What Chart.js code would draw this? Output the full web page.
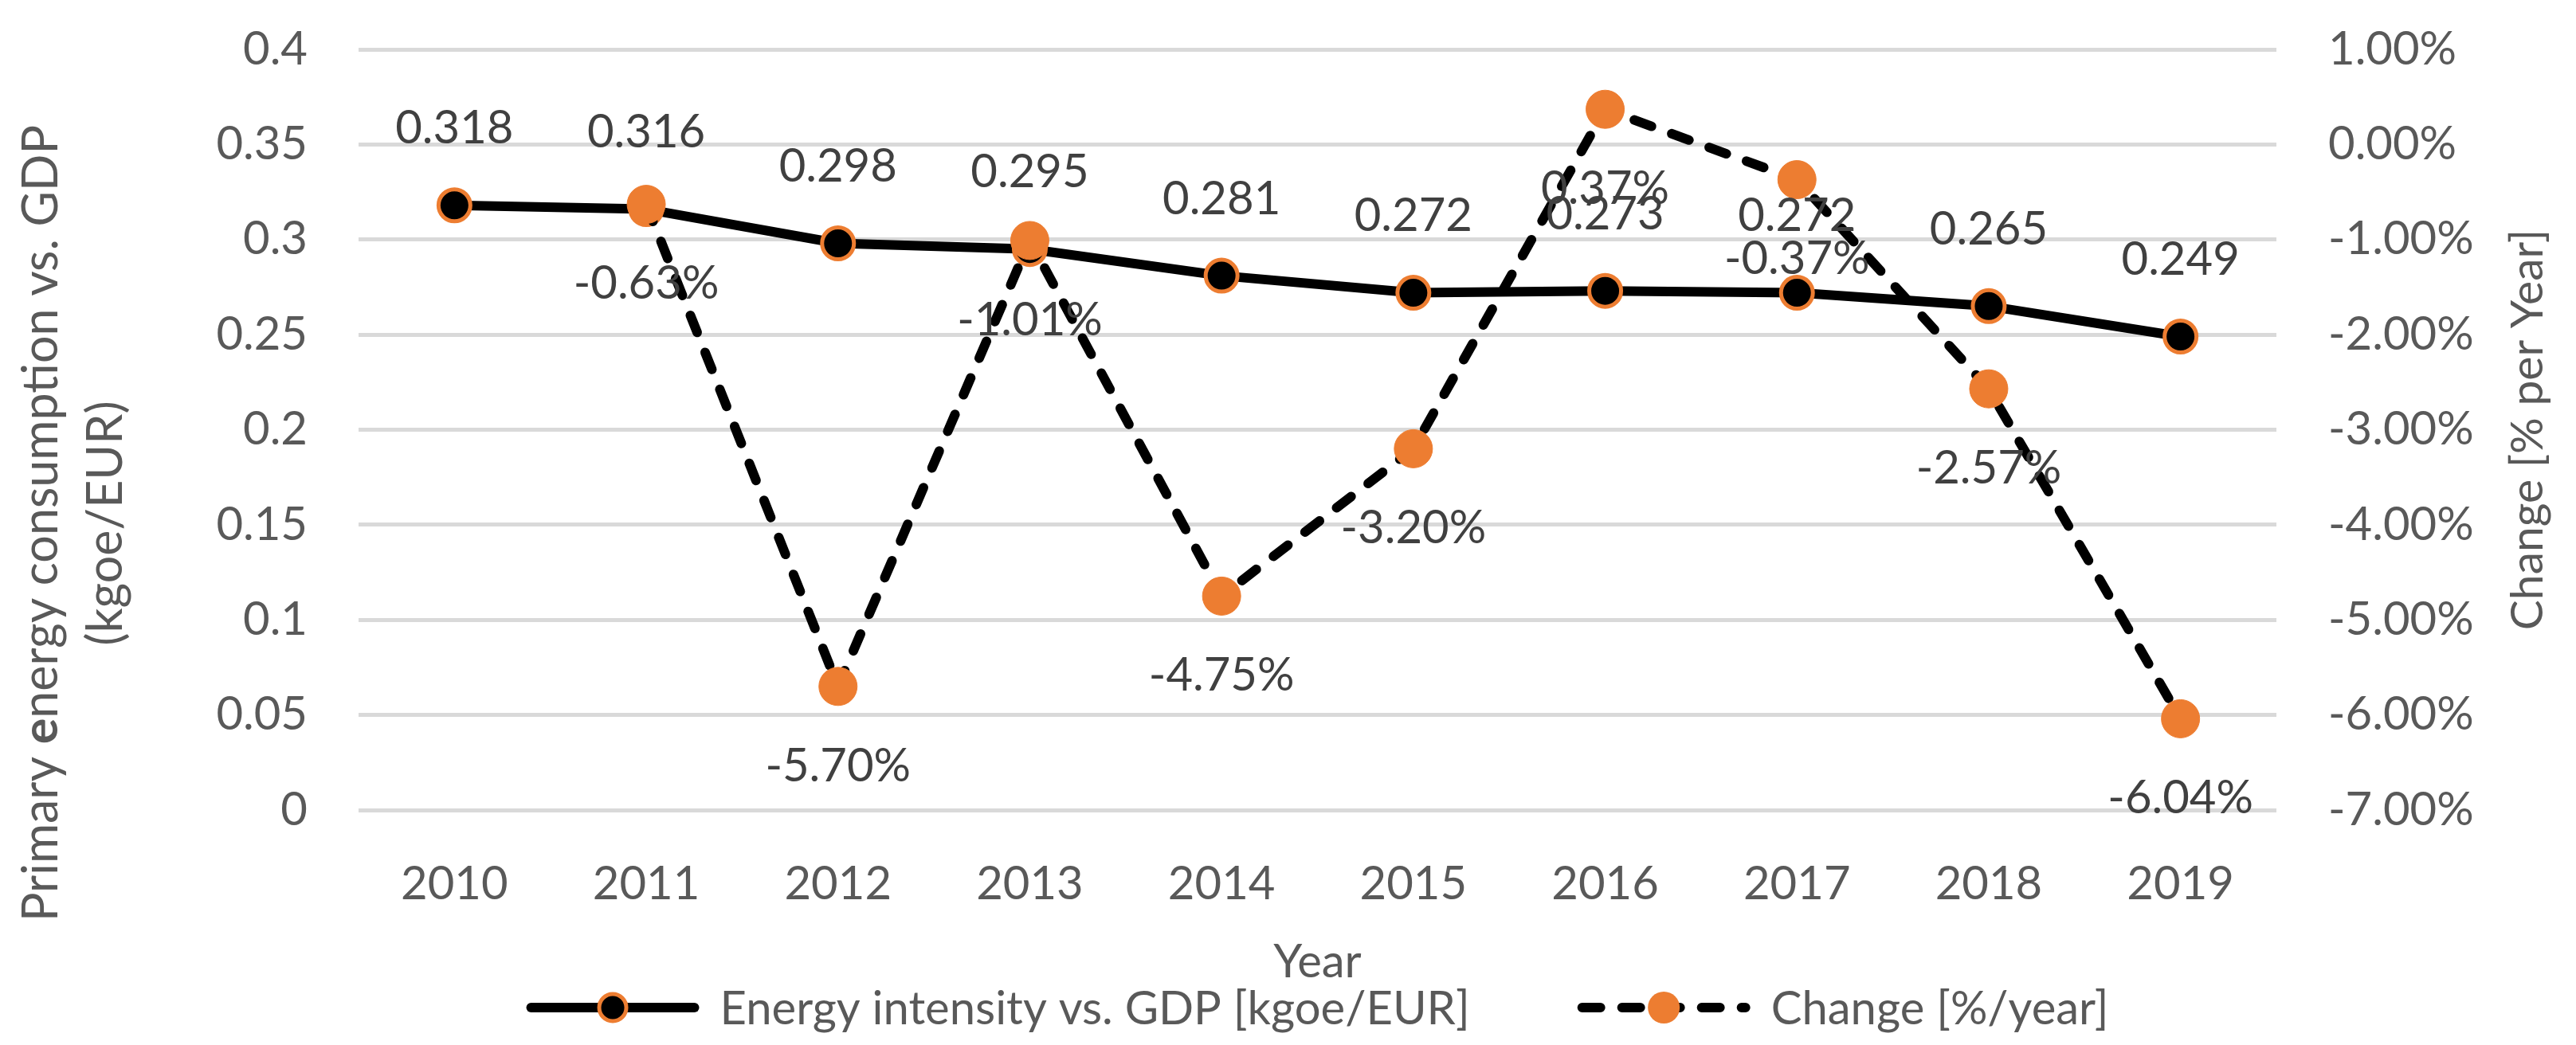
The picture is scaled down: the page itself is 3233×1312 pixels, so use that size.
<!DOCTYPE html>
<html>
<head>
<meta charset="utf-8">
<script src="https://cdn.jsdelivr.net/npm/chart.js@4.4.1/dist/chart.umd.min.js"></script>
<style>
  body { margin: 0; background: #ffffff; }
  #contenedor { width: 3233px; height: 1312px; }
</style>
</head>
<body>
<div id="contenedor"><canvas id="grafica" width="3233" height="1312"></canvas></div>
<script>
// datos de la gráfica
const years = ["2010", "2011", "2012", "2013", "2014", "2015", "2016", "2017", "2018", "2019"];
const intensity = [0.318, 0.316, 0.298, 0.295, 0.281, 0.272, 0.273, 0.272, 0.265, 0.249]; // kgoe/EUR
const change = [null, -0.63, -5.70, -1.01, -4.75, -3.20, 0.37, -0.37, -2.57, -6.04]; // % por año
const seriesNames = ["Energy intensity vs. GDP [kgoe/EUR]", "Change [%/year]"];
const leftTitle = ["Primary ", "e", "nergy consumption vs. GDP"]; // la "e" va en negrita
const leftTitle2 = "(kgoe/EUR)";
const rightTitle = "Change [% per Year]";
const xTitle = "Year";

const FONT = "Lato";
const GRIS = "#595959";
const NARANJA = "#ED7D31";

// etiquetas de datos encima/debajo de cada punto
const etiquetas = {
  id: "etiquetas",
  afterDatasetsDraw(chart) {
    const ctx = chart.ctx;
    ctx.save();
    ctx.font = "58px " + FONT;
    ctx.fillStyle = "#404040";
    ctx.textAlign = "center";
    ctx.textBaseline = "middle";
    chart.data.datasets.forEach((ds, i) => {
      const meta = chart.getDatasetMeta(i);
      meta.data.forEach((pt, j) => {
        const v = ds.data[j];
        if (v === null) return;
        const txt = i === 0 ? v.toFixed(3) : v.toFixed(2) + "%";
        ctx.fillText(txt, pt.x, pt.y + (i === 0 ? -96 : 100));
      });
    });
    ctx.restore();
  }
};

// títulos de los ejes verticales y leyenda dibujados a mano
const extras = {
  id: "extras",
  afterDraw(chart) {
    const ctx = chart.ctx;
    const area = chart.chartArea;
    ctx.save();
    ctx.fillStyle = GRIS;
    ctx.textBaseline = "alphabetic";

    // título izquierdo (dos líneas, giradas)
    const normal = "61px " + FONT;
    const negrita = "bold 61px " + FONT;
    ctx.font = normal;
    const w0 = ctx.measureText(leftTitle[0]).width;
    const w2 = ctx.measureText(leftTitle[2]).width;
    ctx.font = negrita;
    const w1 = ctx.measureText(leftTitle[1]).width;
    const total = w0 + w1 + w2;
    ctx.save();
    ctx.translate(72, 657);
    ctx.rotate(-Math.PI / 2);
    let x = -total / 2;
    ctx.font = normal; ctx.fillText(leftTitle[0], x, 0); x += w0;
    ctx.font = negrita; ctx.fillText(leftTitle[1], x, 0); x += w1;
    ctx.font = normal; ctx.fillText(leftTitle[2], x, 0);
    ctx.textAlign = "center";
    ctx.fillText(leftTitle2, 0, 81);
    ctx.restore();

    // título derecho
    ctx.save();
    ctx.font = "57px " + FONT;
    ctx.textAlign = "center";
    ctx.translate(3191, (area.top + area.bottom) / 2);
    ctx.rotate(-Math.PI / 2);
    ctx.fillText(rightTitle, 0, 0);
    ctx.restore();

    // leyenda
    ctx.font = "58px " + FONT;
    const sym = 217, hueco = 26, entre = 135;
    const anchos = seriesNames.map((t) => ctx.measureText(t).width);
    const largo = sym * 2 + hueco * 2 + anchos[0] + anchos[1] + entre;
    let lx = (area.left + area.right) / 2 - largo / 2;
    const ly = 1265;
    chart.data.datasets.forEach((ds, i) => {
      ctx.save();
      ctx.strokeStyle = ds.borderColor;
      ctx.lineWidth = ds.borderWidth;
      ctx.lineCap = "round";
      ctx.setLineDash(ds.borderDash || []);
      ctx.beginPath();
      ctx.moveTo(lx + 6, ly);
      ctx.lineTo(lx + sym - 6, ly);
      ctx.stroke();
      ctx.setLineDash([]);
      ctx.beginPath();
      const r = i === 0 ? 17 : 20;
      ctx.arc(lx + sym / 2, ly, r, 0, Math.PI * 2);
      ctx.fillStyle = ds.pointBackgroundColor;
      ctx.fill();
      if (i === 0) {
        ctx.lineWidth = 5;
        ctx.strokeStyle = ds.pointBorderColor;
        ctx.stroke();
      }
      ctx.restore();
      ctx.fillStyle = GRIS;
      ctx.textBaseline = "middle";
      ctx.fillText(seriesNames[i], lx + sym + hueco, ly + 2);
      lx += sym + hueco + anchos[i] + entre;
    });
    ctx.restore();
  }
};

// quitar el relleno que el eje vertical pide arriba y abajo
function ajustarEjeY(ancho) {
  return (scale) => {
    scale.width = ancho;
    scale.paddingTop = 0;
    scale.paddingBottom = 0;
  };
}

new Chart(document.getElementById("grafica"), {
  type: "line",
  data: {
    labels: years,
    datasets: [
      {
        label: seriesNames[0],
        data: intensity,
        yAxisID: "y",
        borderColor: "#000000",
        borderWidth: 12,
        borderJoinStyle: "round",
        pointBackgroundColor: "#000000",
        pointBorderColor: NARANJA,
        pointBorderWidth: 5,
        pointRadius: 20,
        pointHoverRadius: 20,
        order: 1
      },
      {
        label: seriesNames[1],
        data: change,
        yAxisID: "y2",
        borderColor: "#000000",
        borderWidth: 12,
        borderDash: [23, 27],
        borderCapStyle: "round",
        borderJoinStyle: "round",
        pointBackgroundColor: NARANJA,
        pointBorderColor: NARANJA,
        pointBorderWidth: 1,
        pointRadius: 24,
        pointHoverRadius: 24,
        order: 0
      }
    ]
  },
  options: {
    responsive: false,
    animation: false,
    devicePixelRatio: 1,
    layout: { padding: { top: 62, left: 0, right: 0, bottom: 0 } },
    plugins: {
      legend: { display: false },
      tooltip: { enabled: false }
    },
    scales: {
      x: {
        offset: true,
        grid: { display: false },
        border: { display: false },
        ticks: { color: GRIS, font: { family: FONT, size: 58 }, padding: 50 },
        title: {
          display: true,
          text: xTitle,
          color: GRIS,
          font: { family: FONT, size: 58 },
          padding: { top: 0, bottom: 69 }
        },
        afterFit: (scale) => { scale.height = 295; }
      },
      y: {
        position: "left",
        min: 0,
        max: 0.4,
        ticks: {
          stepSize: 0.05,
          color: GRIS,
          font: { family: FONT, size: 58 },
          padding: 64,
          callback: (v) => String(Number(v.toFixed(2)))
        },
        grid: { color: "#D9D9D9", lineWidth: 5, drawTicks: false },
        border: { display: false },
        afterFit: ajustarEjeY(450)
      },
      y2: {
        position: "right",
        min: -7,
        max: 1,
        ticks: {
          stepSize: 1,
          color: GRIS,
          font: { family: FONT, size: 58 },
          padding: 65,
          callback: (v) => v.toFixed(2) + "%"
        },
        grid: { display: false, drawTicks: false },
        border: { display: false },
        afterFit: ajustarEjeY(376)
      }
    }
  },
  plugins: [etiquetas, extras]
});
</script>
</body>
</html>
